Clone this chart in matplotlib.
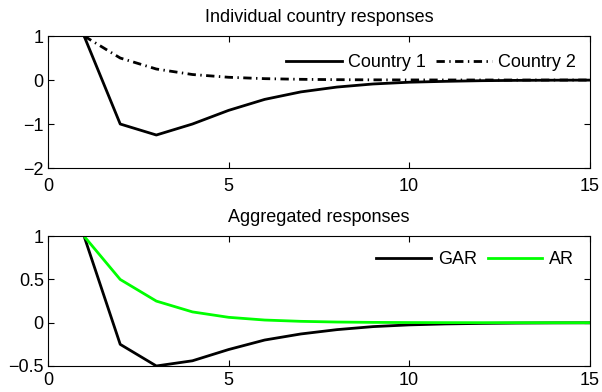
import matplotlib
matplotlib.use('Agg')
import matplotlib.pyplot as plt

plt.rcParams['font.family'] = ['Liberation Sans', 'DejaVu Sans']
plt.rcParams['axes.unicode_minus'] = True

# ── data ─────────────────────────────────────────────
horizon = list(range(1, 16))
country1 = [1.0, -1.0, -1.25, -1.0, -0.69, -0.44, -0.27, -0.16, -0.09,
            -0.05, -0.03, -0.015, -0.008, -0.004, -0.002]
country2 = [1.0, 0.5, 0.25, 0.125, 0.0625, 0.031, 0.016, 0.008, 0.004,
            0.002, 0.001, 0.0005, 0.0002, 0.0001, 0.0]
gar = [1.0, -0.25, -0.5, -0.44, -0.31, -0.20, -0.13, -0.08, -0.045,
       -0.025, -0.014, -0.008, -0.004, -0.002, -0.001]
ar = [1.0, 0.5, 0.25, 0.125, 0.0625, 0.031, 0.016, 0.008, 0.004,
      0.002, 0.001, 0.0005, 0.0002, 0.0001, 0.0]

FS = 13

fig = plt.figure(figsize=(6.02, 3.92), dpi=100)
ax1 = fig.add_axes([0.0797, 0.5714, 0.900, 0.3367])
ax2 = fig.add_axes([0.0797, 0.0664, 0.900, 0.331])

# ── top panel ───────────────────────────────────────
ax1.plot(horizon, country1, color='black', lw=2.0, label='Country 1')
ax1.plot(horizon, country2, color='black', lw=2.0,
         ls=(0, (3, 1.6, 0.5, 1.6)), label='Country 2')
ax1.set_xlim(0, 15)
ax1.set_ylim(-2, 1)
ax1.set_yticks([-2, -1, 0, 1])
ax1.set_xticks([0, 5, 10, 15])
ax1.set_title('Individual country responses', fontsize=FS, pad=10)
ax1.legend(loc='center right', bbox_to_anchor=(0.975, 0.80), frameon=False,
           fontsize=FS, ncol=2, handlelength=3.1, columnspacing=0.55,
           handletextpad=0.35, borderpad=0, borderaxespad=0)

# ── bottom panel ────────────────────────────────────
ax2.plot(horizon, gar, color='black', lw=2.0, label='GAR')
ax2.plot(horizon, ar, color='#00ff00', lw=2.0, label='AR')
ax2.set_xlim(0, 15)
ax2.set_ylim(-0.5, 1)
ax2.set_yticks([-0.5, 0, 0.5, 1])
ax2.set_yticklabels(['\u22120.5', '0', '0.5', '1'])
ax2.set_xticks([0, 5, 10, 15])
ax2.set_title('Aggregated responses', fontsize=FS, pad=10)
ax2.legend(loc='center right', bbox_to_anchor=(0.971, 0.82), frameon=False,
           fontsize=FS, ncol=2, handlelength=3.0, columnspacing=0.6,
           handletextpad=0.4, borderpad=0, borderaxespad=0)

for ax in (ax1, ax2):
    ax.tick_params(direction='in', top=True, right=True, labelsize=FS,
                   length=4)
    ax.tick_params(axis='y', pad=3)
ax1.tick_params(axis='x', pad=7)
ax2.tick_params(axis='x', pad=4)
for ax in (ax1, ax2):
    for s in ax.spines.values():
        s.set_linewidth(0.8)

plt.savefig('out.png', dpi=100)
